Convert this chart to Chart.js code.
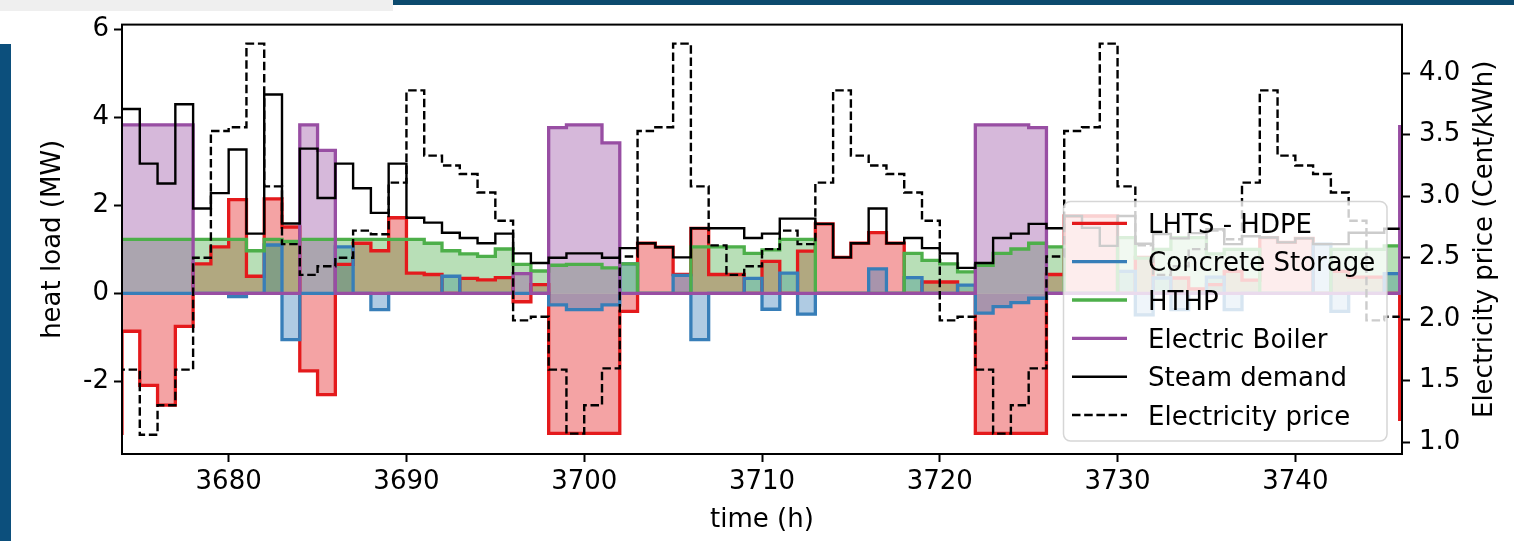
<!DOCTYPE html>
<html>
<head>
<meta charset="utf-8">
<title>heat load</title>
<script src="https://cdn.jsdelivr.net/npm/chart.js@4.4.0/dist/chart.umd.min.js"></script>
<style>
  html, body { margin: 0; padding: 0; background: #fff; }
  #wrap { position: relative; width: 1514px; height: 541px; overflow: hidden; }
  .deco { position: absolute; }
  canvas { position: absolute; left: 0; top: 0; }
</style>
</head>
<body>
<div id="wrap">
  <div class="deco" style="left:0;top:0;width:393px;height:11px;background:#efefef"></div>
  <div class="deco" style="left:393px;top:0;width:1121px;height:5px;background:#0c4a6e"></div>
  <div class="deco" style="left:0;top:44px;width:11px;height:497px;background:#0c4f7c"></div>
  <canvas id="chart" width="1514" height="541"></canvas>
</div>
<script>
// hourly steps, one value per hour (3673 and the last entry sit at the plot edges)
const hours = [
  3673,
  3674, 3675, 3676, 3677, 3678, 3679,
  3680, 3681, 3682, 3683, 3684, 3685, 3686, 3687, 3688, 3689,
  3690, 3691, 3692, 3693, 3694, 3695, 3696, 3697, 3698, 3699,
  3700, 3701, 3702, 3703, 3704, 3705, 3706, 3707, 3708, 3709,
  3710, 3711, 3712, 3713, 3714, 3715, 3716, 3717, 3718, 3719,
  3720, 3721, 3722, 3723, 3724, 3725, 3726, 3727, 3728, 3729,
  3730, 3731, 3732, 3733, 3734, 3735, 3736, 3737, 3738, 3739,
  3740, 3741, 3742, 3743, 3744, 3745,
  3745.87
];

// heat load (MW)
const lhts = [
  -3.18,
  -0.86, -2.09, -2.54, -0.75, 0.67, 1.06,
  2.13, 0.39, 2.15, 1.51, -1.76, -2.30, 0.66, 1.14, 0.97, 1.72,
  0.46, 0.43, 0, 0.34, 0.31, 0.36, -0.19, 0.20, -3.18, -3.18,
  -3.18, -3.18, -0.41, 1.14, 1.05, 0.43, 1.48, 0.43, 0.43, 0,
  0.73, 0, 0.96, 1.58, 0.82, 1.14, 1.38, 1.14, 0, 0.26,
  0.26, 0, -3.18, -3.18, -3.18, -3.18, 0.43, 1.76, 1.76, 1.76,
  0, 0.82, 0, 0.35, 0.1, 0.2, 0.5, 0.3, 1.27, 1.16,
  1.25, 0, 0.5, 0.37, 0.37, 0,
  -2.9
];

const concrete = [
  0,
  0, 0, 0, 0, 0, 0,
  -0.07, 0, 1.10, -1.05, 0, 0, 1.06, 0, -0.37, 0,
  0, 0, 0.39, 0, 0, 0, 0, 0, -0.26, -0.37,
  -0.37, -0.26, 0.67, 0, 0, 0.41, -1.05, 0, 0, 0.34,
  -0.36, 0.46, -0.47, 0, 0, 0, 0.56, 0, 0.36, 0,
  0, 0.19, -0.45, -0.30, -0.21, -0.11, 0, 0, 0, 0,
  0.5, -0.49, 0.35, -0.37, 0, 0.37, -0.37, 0, 0, 0,
  0, 1.12, -0.41, 0, 0, 0.45,
  0
];

const hthp = [
  1.23,
  1.23, 1.23, 1.23, 1.23, 1.23, 1.23,
  1.23, 0.97, 1.23, 1.18, 1.23, 1.23, 1.23, 1.23, 1.23, 1.23,
  1.23, 1.14, 0.97, 0.90, 0.84, 1.01, 0.66, 0.51, 0.64, 0.66,
  0.66, 0.58, 0.67, 0, 0, 0, 1.06, 1.06, 1.06, 0.91,
  0.99, 1.23, 1.23, 0, 0, 0, 0, 0, 0.91, 0.75,
  0.67, 0.49, 0.64, 0.91, 1.01, 1.14, 1.06, 0, 0, 0,
  1.27, 0.80, 1.0, 1.27, 1.27, 0.9, 1.0, 1.0, 0, 0,
  0, 0, 1.0, 1.0, 1.0, 1.08,
  1.08
];

const boiler = [
  3.83,
  3.83, 3.83, 3.83, 3.83, 0, 0,
  0, 0, 0, 0, 3.83, 3.25, 0, 0, 0, 0,
  0, 0, 0, 0, 0, 0, 0.45, 0, 3.77, 3.83,
  3.83, 3.42, 0, 0, 0, 0, 0, 0, 0, 0,
  0, 0, 0, 0, 0, 0, 0, 0, 0, 0,
  0, 0, 3.83, 3.83, 3.83, 3.77, 0, 0, 0, 0,
  0, 0, 0, 0, 0, 0, 0, 0, 0, 0,
  0, 0, 0, 0, 0, 0,
  3.83
];

const steam = [
  4.19,
  4.19, 2.95, 2.50, 4.30, 1.93, 2.28,
  3.27, 1.36, 4.52, 1.59, 3.29, 2.17, 2.95, 2.39, 1.83, 2.95,
  1.72, 1.61, 1.38, 1.26, 1.14, 1.36, 0.91, 0.69, 0.81, 0.91,
  0.91, 0.81, 1.03, 1.14, 1.05, 0.82, 1.48, 1.48, 1.48, 1.26,
  1.36, 1.70, 1.70, 1.58, 0.82, 1.14, 1.93, 1.14, 1.26, 1.03,
  0.91, 0.58, 0.69, 1.26, 1.36, 1.58, 1.48, 1.76, 1.49, 1.08,
  1.76, 1.13, 1.35, 1.25, 1.37, 1.46, 1.12, 1.30, 1.27, 1.16,
  1.25, 1.12, 1.12, 1.38, 1.38, 1.47,
  1.47
];

// electricity price (Cent/kWh), right axis
const price = [
  1.59,
  1.59, 1.06, 1.30, 1.59, 2.50, 3.53,
  3.56, 4.24, 3.08, 2.61, 2.36, 2.43, 2.50, 2.72, 2.69, 3.11,
  3.86, 3.33, 3.25, 3.18, 3.03, 2.80, 1.99, 2.02, 1.59, 1.07,
  1.30, 1.60, 2.51, 3.53, 3.56, 4.24, 3.08, 2.60, 2.36, 2.43,
  2.57, 2.72, 2.61, 3.11, 3.86, 3.33, 3.25, 3.18, 3.03, 2.80,
  1.99, 2.02, 1.59, 1.07, 1.30, 1.60, 2.51, 3.53, 3.56, 4.24,
  3.08, 2.60, 2.36, 2.43, 2.57, 2.72, 2.65, 3.11, 3.86, 3.33,
  3.25, 3.18, 3.03, 2.80, 1.99, 2.02,
  2.02
];

const seriesNames = ["LHTS - HDPE", "Concrete Storage", "HTHP", "Electric Boiler", "Steam demand", "Electricity price"];
const xTicks = [3680, 3690, 3700, 3710, 3720, 3730, 3740];
const leftTicks = [-2, 0, 2, 4, 6];
const rightTicks = [1.0, 1.5, 2.0, 2.5, 3.0, 3.5, 4.0];
const rightTitle = 'Electricity price (Cent/kWh)';

const FONT = 'DejaVu Sans';
Chart.defaults.font.family = FONT;
Chart.defaults.color = '#000';

function pts(values) {
  return hours.map((h, i) => ({ x: h, y: values[i] }));
}

function stepSeries(label, values, color, fillColor, order) {
  return {
    label: label,
    data: pts(values),
    yAxisID: 'y',
    borderColor: color,
    backgroundColor: fillColor,
    borderWidth: 3.3,
    fill: 'origin',
    stepped: 'before',
    pointRadius: 0,
    borderJoinStyle: 'miter',
    order: order
  };
}

// legend drawn over the plot, semi transparent like matplotlib
const legendBox = {
  id: 'legendBox',
  afterDatasetsDraw(chart) {
    const ctx = chart.ctx;
    ctx.save();
    ctx.beginPath();
    ctx.roundRect(1063.5, 201.5, 323.5, 239.5, 7);
    ctx.fillStyle = 'rgba(255,255,255,0.8)';
    ctx.fill();
    ctx.strokeStyle = 'rgba(204,204,204,0.8)';
    ctx.lineWidth = 1.5;
    ctx.stroke();
    ctx.font = '26px "' + FONT + '"';
    ctx.textBaseline = 'alphabetic';
    chart.data.datasets.forEach((ds, i) => {
      const y = 223.3 + i * 38.35;
      ctx.beginPath();
      ctx.setLineDash(ds.borderDash || []);
      ctx.strokeStyle = ds.borderColor;
      ctx.lineWidth = ds.borderWidth;
      ctx.moveTo(1072, y);
      ctx.lineTo(1127, y);
      ctx.stroke();
      ctx.setLineDash([]);
      ctx.fillStyle = '#000';
      ctx.fillText(ds.label, 1148, y + 9.5);
    });
    ctx.restore();
  }
};

// box around the plot plus the right axis title, which reads bottom to top
const frame = {
  id: 'frame',
  afterDraw(chart) {
    const a = chart.chartArea;
    const ctx = chart.ctx;
    ctx.save();
    ctx.strokeStyle = '#000';
    ctx.lineWidth = 2;
    ctx.strokeRect(a.left, a.top, a.right - a.left, a.bottom - a.top);
    ctx.translate(1492, (a.top + a.bottom) / 2);
    ctx.rotate(-Math.PI / 2);
    ctx.font = '26px "' + FONT + '"';
    ctx.fillStyle = '#000';
    ctx.textAlign = 'center';
    ctx.textBaseline = 'alphabetic';
    ctx.fillText(rightTitle, 0, 0);
    ctx.restore();
  }
};

const axisLine = { display: true, color: '#000', width: 2 };
const tickGrid = { display: true, drawOnChartArea: false, drawTicks: true, tickLength: 8, tickWidth: 2, tickColor: '#000' };

new Chart(document.getElementById('chart'), {
  type: 'line',
  data: {
    datasets: [
      stepSeries(seriesNames[0], lhts, '#e41a1c', 'rgba(228,26,28,0.4)', 6),
      stepSeries(seriesNames[1], concrete, '#377eb8', 'rgba(55,126,184,0.4)', 5),
      stepSeries(seriesNames[2], hthp, '#4daf4a', 'rgba(77,175,74,0.4)', 4),
      stepSeries(seriesNames[3], boiler, '#984ea3', 'rgba(152,78,163,0.4)', 3),
      {
        label: seriesNames[4],
        data: pts(steam),
        yAxisID: 'y',
        borderColor: '#000',
        borderWidth: 2.4,
        fill: false,
        stepped: 'before',
        pointRadius: 0,
        borderJoinStyle: 'miter',
        order: 2
      },
      {
        label: seriesNames[5],
        data: pts(price),
        yAxisID: 'y2',
        borderColor: '#000',
        borderWidth: 2.4,
        borderDash: [8.5, 3.7],
        fill: false,
        stepped: 'before',
        pointRadius: 0,
        borderJoinStyle: 'miter',
        order: 1
      }
    ]
  },
  options: {
    responsive: false,
    animation: false,
    events: [],
    layout: { padding: { top: 19, left: 0, right: 0, bottom: 0 } },
    plugins: {
      legend: { display: false },
      tooltip: { enabled: false },
      filler: { drawTime: 'beforeDatasetsDraw' }
    },
    scales: {
      x: {
        type: 'linear',
        min: 3674,
        max: 3746,
        afterBuildTicks: s => { s.ticks = xTicks.map(v => ({ value: v })); },
        afterFit: s => { s.height = 87; },
        ticks: { font: { size: 26 }, color: '#000', padding: 5, maxRotation: 0, autoSkip: false, callback: v => String(v) },
        grid: tickGrid,
        border: axisLine,
        title: { display: true, text: 'time (h)', font: { size: 26 }, color: '#000', padding: { top: 0, bottom: 5 } }
      },
      y: {
        position: 'left',
        min: -3.65,
        max: 6.11,
        afterBuildTicks: s => { s.ticks = leftTicks.map(v => ({ value: v })); },
        afterFit: s => { s.width = 122; },
        ticks: { font: { size: 26 }, color: '#000', padding: 5, callback: v => String(v) },
        grid: tickGrid,
        border: axisLine,
        title: { display: true, text: 'heat load (MW)', font: { size: 26 }, color: '#000', padding: { top: 38, bottom: 0 } }
      },
      y2: {
        position: 'right',
        min: 0.904,
        max: 4.395,
        afterBuildTicks: s => { s.ticks = rightTicks.map(v => ({ value: v })); },
        afterFit: s => { s.width = 112; },
        ticks: { font: { size: 26 }, color: '#000', padding: 9, callback: v => v.toFixed(1) },
        grid: tickGrid,
        border: axisLine,
        title: { display: false }
      }
    }
  },
  plugins: [legendBox, frame]
});
</script>
</body>
</html>
